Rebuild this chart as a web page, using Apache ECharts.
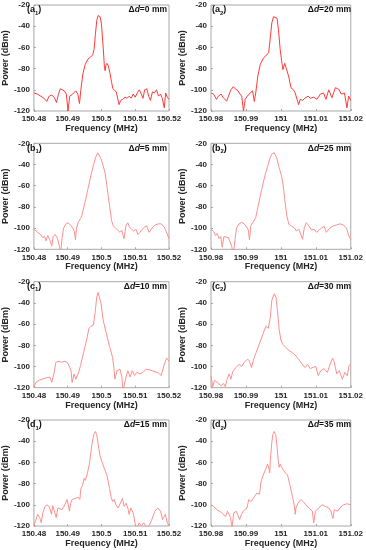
<!DOCTYPE html>
<html><head><meta charset="utf-8">
<script src="https://cdn.jsdelivr.net/npm/echarts@6/dist/echarts.min.js"></script>
<style>html,body{margin:0;padding:0;background:#fff}#c{width:366px;height:550px}</style>
</head><body><div id="c"></div>
<script>
// Frequency offsets in kHz from each panel's left limit, power in dBm
const a1 = [[0,-103],[1,-104],[2,-106],[3,-108],[3.8,-111],[4.5,-106],[5.3,-105],[6.0,-107],[6.7,-112],[7.2,-105],[7.8,-99],[8.3,-98],[9.0,-101],[9.6,-104],[10.1,-120],[10.6,-106],[11.5,-104],[12.4,-101],[13.0,-104],[13.5,-113],[13.9,-100],[14.5,-85],[15.2,-76],[16.0,-71],[16.8,-69],[17.4,-67],[17.8,-62],[18.2,-48],[18.6,-35],[19.0,-30],[19.3,-29],[19.6,-31],[20.0,-38],[20.4,-55],[20.7,-69],[20.9,-80],[21.1,-82],[21.3,-77],[21.6,-75],[22.0,-77],[22.5,-84],[23.0,-93],[23.4,-99],[23.9,-100],[24.4,-102],[24.8,-108],[25.2,-114],[25.7,-110],[26.3,-109],[27.0,-107],[27.6,-108],[28.2,-106],[28.8,-108],[29.4,-104],[30.0,-107],[30.6,-103],[31.2,-100],[31.8,-104],[32.3,-108],[32.8,-100],[33.4,-99],[34.0,-106],[34.5,-110],[35.1,-102],[35.7,-103],[36.3,-100],[36.9,-106],[37.5,-104],[38.0,-108],[38.6,-117],[39.0,-103],[39.5,-107],[40,-109]];
const a2 = [[0,-103],[0.7,-104],[1.6,-109],[2.1,-106],[2.9,-104],[3.5,-107.5],[4.0,-106],[4.5,-110.6],[5.0,-106],[5.7,-100],[6.4,-97],[6.9,-99],[7.7,-101],[8.3,-104],[8.8,-106],[9.3,-120],[9.8,-109],[10.4,-106],[11.2,-103],[11.9,-101],[12.4,-111],[12.8,-103],[13.4,-87],[14.1,-76],[15.0,-70],[16.0,-67],[16.5,-65],[16.9,-53],[17.4,-37],[17.9,-31],[18.4,-29.4],[18.9,-32.5],[19.3,-43],[19.8,-62],[20.3,-75],[20.6,-81],[21.1,-75],[21.5,-76],[22.2,-87],[22.9,-98],[23.6,-100],[24.1,-103],[24.6,-109],[25.1,-114],[25.5,-109],[26.2,-110],[27.0,-107.5],[27.8,-106],[28.4,-108],[29.4,-107],[30.3,-109],[31.3,-104],[32.2,-103],[32.9,-109],[33.7,-100],[34.6,-107.5],[35.6,-98],[36.6,-99.7],[37.3,-104],[38.2,-103],[38.9,-117],[39.4,-106],[39.9,-107.5],[40,-110]];
const b1 = [[0,-101],[1.1,-104],[2.0,-106],[2.6,-109],[3.2,-108],[3.6,-112],[4.1,-107],[4.7,-111],[5.3,-117],[5.7,-108],[6.3,-106],[7.0,-110],[7.6,-118],[7.9,-125],[8.3,-110],[8.8,-100],[9.5,-96],[10.1,-95],[10.8,-97],[11.5,-100],[12.0,-103],[12.3,-111],[12.6,-100],[13.2,-94],[13.8,-91],[14.2,-88],[15.1,-76],[16.0,-63],[16.9,-50],[17.6,-41],[18.3,-33],[18.9,-29],[19.3,-30],[19.8,-34],[20.4,-40],[21.0,-47],[21.4,-55],[21.9,-67],[22.4,-79],[23.0,-93],[23.5,-98],[24.0,-97],[24.5,-101],[25.0,-100],[25.5,-104],[26.0,-102],[26.4,-107],[26.7,-110],[27.0,-103],[27.3,-97],[27.8,-95],[28.3,-99],[28.9,-101],[29.6,-103],[30.2,-101],[30.8,-106],[31.4,-104],[32.1,-101],[32.8,-99],[33.4,-98],[34.1,-104],[34.6,-103],[35.2,-99],[35.9,-97],[36.8,-96],[37.7,-96],[38.6,-99],[39.4,-105],[40,-110]];
const b2 = [[0,-101],[0.7,-103],[1.3,-107],[1.8,-105],[2.3,-110],[2.8,-108],[3.2,-118],[3.7,-108],[4.2,-108],[5.0,-109],[5.4,-110],[5.9,-117],[6.4,-125],[6.9,-110],[7.3,-100],[8.0,-96],[8.8,-94.6],[9.5,-96],[10.2,-99],[10.7,-102],[11.0,-111],[11.4,-97.6],[12.1,-94],[12.8,-90],[13.5,-79],[14.5,-63.5],[15.4,-51],[16.2,-41.6],[16.9,-33.8],[17.5,-29.7],[18.1,-29],[18.8,-33.8],[19.5,-43],[20.2,-51],[20.7,-60.5],[21.1,-73],[21.7,-88.7],[22.3,-96.5],[23.0,-98],[23.8,-99.6],[24.5,-102.8],[25.1,-101],[25.7,-105.8],[26.2,-110.5],[26.7,-99.6],[27.3,-94.9],[28.0,-98],[28.8,-101.8],[29.5,-101],[30.2,-104],[30.9,-102],[31.6,-100],[32.4,-98.4],[33.0,-104],[34.0,-100],[35.0,-98],[35.9,-97],[36.9,-96],[37.8,-97],[38.8,-100],[39.4,-107],[40,-111]];
const c1 = [[0,-119.5],[0.6,-115],[1.5,-113],[2.4,-112],[3.3,-111],[4.7,-110],[5.3,-115],[5.9,-107],[6.5,-96],[7.4,-95],[8.3,-96],[9.2,-95],[10.1,-97],[11.0,-104],[11.3,-115],[11.9,-107],[12.4,-112],[12.9,-111],[13.3,-105],[13.8,-99],[14.7,-87],[15.6,-75],[16.3,-64],[16.9,-62],[17.6,-61],[18.1,-50],[18.6,-34.5],[19.0,-30],[19.5,-31.5],[19.9,-41],[20.5,-56],[21.4,-68.5],[22.4,-81],[23.3,-91.5],[23.7,-102],[24.0,-112],[24.6,-104],[25.5,-102.5],[26.0,-109],[26.4,-123],[27.1,-112],[27.8,-104],[28.5,-110],[29.1,-104],[29.8,-108.5],[30.5,-105.5],[31.4,-107],[32.3,-105.5],[33.2,-102.5],[34.1,-103],[35.0,-104],[35.9,-105],[36.8,-106],[37.7,-108.5],[38.6,-98],[39.3,-92],[40,-95]];
const c2 = [[0,-108.6],[0.5,-119],[1.0,-113],[1.4,-112],[2.1,-116],[2.9,-118],[3.6,-116],[4.1,-119],[4.6,-112],[5.2,-107],[5.7,-112],[6.2,-105],[7.1,-101],[8.1,-98],[8.8,-100],[9.5,-96],[10.5,-93],[11.0,-95],[11.6,-101],[12.2,-93],[12.9,-87],[13.8,-79],[14.8,-70],[15.7,-62],[16.4,-64],[17.0,-53],[17.4,-37.6],[18.1,-31.4],[18.6,-34.5],[19.0,-47],[19.5,-65],[20.0,-75],[20.5,-79],[21.4,-82],[22.4,-85],[23.3,-87],[24.3,-90],[25.0,-93],[25.7,-96],[26.9,-101],[27.6,-98],[28.4,-102],[29.0,-101],[30.0,-100],[30.7,-108.6],[31.4,-104],[32.4,-102],[33.3,-105.5],[34.3,-96],[34.8,-92],[35.2,-95],[36.0,-107],[36.7,-104],[37.6,-112],[38.3,-105.5],[39.0,-108.6],[39.5,-99],[40,-98]];
const d1 = [[0,-120],[0.5,-115],[1.1,-109],[1.7,-112],[2.2,-117],[2.6,-108],[3.3,-101.5],[4.0,-100],[4.7,-103],[5.2,-109],[5.6,-101],[6.1,-100],[6.6,-112],[7.1,-103],[7.5,-102.5],[8.3,-104.6],[8.9,-101.5],[9.4,-98.5],[9.8,-95],[10.2,-100],[10.5,-106],[10.9,-98.5],[11.3,-95],[12.2,-94],[13.2,-93],[13.6,-95],[13.9,-84.6],[14.4,-81.5],[14.9,-75],[15.2,-77],[15.8,-71],[16.5,-60],[17.1,-44.6],[17.7,-33.8],[18.2,-30.8],[18.6,-33.8],[19.1,-44.6],[19.6,-54],[20.2,-60],[20.9,-66],[21.6,-72],[22.4,-84.6],[22.8,-92],[23.3,-97],[23.8,-95],[24.3,-100],[24.9,-103],[25.6,-98.5],[26.2,-94],[26.7,-101.5],[27.3,-98.5],[27.8,-103],[28.2,-109],[28.7,-103],[29.4,-107.7],[30.1,-120],[30.6,-122],[31.1,-117],[31.8,-120],[32.5,-117],[33.1,-120],[33.9,-121],[34.8,-115],[35.8,-106],[36.7,-103],[37.5,-106],[38.1,-114],[38.9,-109],[39.5,-117],[40,-120]];
const d2 = [[0,-100],[0.7,-101.5],[1.6,-104.6],[2.1,-106],[2.8,-106.8],[3.5,-109],[4.0,-107.5],[4.2,-111],[4.7,-106],[5.1,-108.5],[5.6,-112],[6.0,-122],[6.5,-107.7],[7.3,-106],[7.7,-110],[8.2,-114],[8.7,-109],[9.2,-106],[9.6,-107.7],[10.3,-103],[10.8,-95],[11.5,-97],[12.0,-96.5],[12.5,-92],[13.1,-89],[13.6,-87.7],[13.9,-90],[14.3,-78.5],[14.9,-72],[15.3,-70.8],[15.8,-65.5],[16.2,-61.5],[16.6,-66],[16.8,-70],[17.0,-57],[17.4,-41.5],[17.7,-33.8],[18.1,-30.8],[18.5,-33.8],[18.9,-44.6],[19.2,-57],[19.5,-64.6],[19.8,-61.5],[20.2,-64.6],[20.6,-63],[21.1,-69],[21.9,-72],[22.6,-81.5],[23.3,-92],[23.8,-100],[24.1,-109],[24.3,-103],[24.9,-98.5],[25.7,-95],[26.4,-97],[27.1,-100],[28.0,-103],[29.0,-106],[29.4,-117],[29.9,-106],[30.8,-103],[31.8,-100],[32.7,-101.5],[33.7,-103],[34.3,-106],[34.9,-113],[35.3,-104.6],[36.2,-106],[36.9,-103],[37.9,-100],[38.9,-99],[39.3,-100.5],[40,-100]];

const xMin = [150.48, 150.98];
const xMax = [150.52, 151.02];
const yMin = -120, yMax = -20, yStep = 20;
const panelLetters = ['a','b','c','d'];
const deltaD = [['0','20'],['5','25'],['10','30'],['15','35']];
const curves = [[a1,a2],[b1,b2],[c1,c2],[d1,d2]];
const lineColors = ['#ff3a3a','#ff8f8f','#ff8f8f','#ff8f8f'];

const FONT = 'Liberation Sans, Arial, sans-serif';
const colLeft = [26, 211], colW = [143, 142];
const rowTop = [5, 143.3, 281.7, 420], rowH = 106;

const grid = [], xAxis = [], yAxis = [], series = [], title = [];
let idx = 0;
for (let r = 0; r < 4; r++) {
  for (let c = 0; c < 2; c++) {
    grid.push({left: colLeft[c], top: rowTop[r], width: colW[c], height: rowH,
      show: true, borderColor: '#a8a8a8', borderWidth: 1, backgroundColor: '#fff', containLabel: false});
    xAxis.push({type: 'value', gridIndex: idx, min: xMin[c], max: xMax[c], interval: 0.01,
      name: 'Frequency (MHz)', nameLocation: 'middle', nameGap: 12,
      nameTextStyle: {fontFamily: FONT, fontWeight: 'bold', fontSize: 9, color: '#262626'},
      axisLine: {show: false}, splitLine: {show: false},
      axisTick: {show: true, inside: true, length: 2, lineStyle: {color: '#a8a8a8'}},
      axisLabel: {margin: 4, fontFamily: FONT, fontWeight: 'bold', fontSize: 8, color: '#262626',
        showMinLabel: true, showMaxLabel: true,
        formatter: v => String(+(+v).toFixed(3))}});
    yAxis.push({type: 'value', gridIndex: idx, min: yMin, max: yMax, interval: yStep,
      name: 'Power (dBm)', nameLocation: 'middle', nameGap: 15, nameRotate: 90,
      nameTextStyle: {fontFamily: FONT, fontWeight: 'bold', fontSize: 9, color: '#262626'},
      axisLine: {show: false}, splitLine: {show: false},
      axisTick: {show: true, inside: true, length: 2, lineStyle: {color: '#a8a8a8'}},
      axisLabel: {margin: 4, fontFamily: FONT, fontWeight: 'bold', fontSize: 8, color: '#262626'}});
    series.push({type: 'line', xAxisIndex: idx, yAxisIndex: idx, showSymbol: false, clip: true,
      lineStyle: {width: 1, color: lineColors[r]}, itemStyle: {color: lineColors[r]},
      data: curves[r][c].map(p => [xMin[c] + p[0] / 1000, p[1]])});
    const rich = {
      p: {fontFamily: FONT, fontWeight: 'bold', fontSize: 9, color: '#111', lineHeight: 12, verticalAlign: 'middle'},
      s: {fontFamily: FONT, fontWeight: 'bold', fontSize: 6, color: '#111', lineHeight: 6, verticalAlign: 'bottom'},
      n: {fontFamily: FONT, fontWeight: 'bold', fontSize: 8.5, color: '#111', lineHeight: 12},
      i: {fontFamily: FONT, fontWeight: 'bold', fontStyle: 'italic', fontSize: 8.5, color: '#111', lineHeight: 12}
    };
    title.push({left: colLeft[c] + 1, top: rowTop[r] - 1, padding: 0,
      text: '{p|(' + panelLetters[r] + '}{s|' + (c + 1) + '}{p|)}',
      textStyle: {rich: rich}});
    title.push({right: 366 - colLeft[c] - colW[c] + 2, top: rowTop[r] - 1, padding: 0,
      text: '{n|\u0394}{i|d}{n|=' + deltaD[r][c] + ' mm}',
      textStyle: {rich: rich}});
    idx++;
  }
}

const chart = echarts.init(document.getElementById('c'), null, {renderer: 'canvas'});
chart.setOption({animation: false, backgroundColor: '#fff', title, grid, xAxis, yAxis, series});
</script></body></html>
